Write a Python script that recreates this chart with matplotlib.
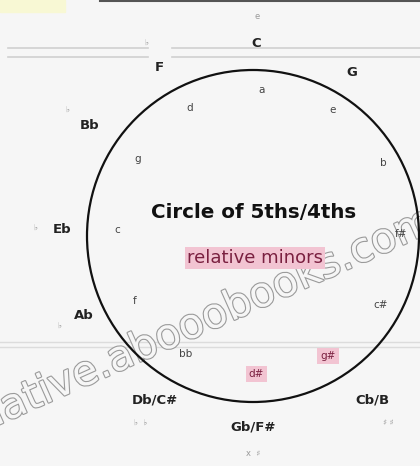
import numpy as np
import matplotlib.pyplot as plt
import matplotlib.patheffects as pe
from matplotlib.patches import Circle, Rectangle

# keys around the circle, clockwise from the top
majors = ['C', 'G', 'D', 'A', 'E', 'Cb/B', 'Gb/F#', 'Db/C#', 'Ab', 'Eb', 'Bb', 'F']
minors = ['a', 'e', 'b', 'f#', 'c#', 'g#', 'd#', 'bb', 'f', 'c', 'g', 'd']
minor_hilite = ['g#', 'd#']
# faint key-signature marks outside the major labels
sigs = ['e', '', '', '', '', '\u266f \u266f', 'x  \u266f', '\u266d  \u266d', '\u266d', '\u266d', '\u266d', '\u266d']

# layout (the drawing is hand placed, not perfectly even)
cx, cy, R = 253, 230, 166
r_major, r_minor, r_sig = 191, 142, 218
offset = -1
major_nudge = [0, 0, 0, 0, 0, 7, 1, 0, -4, -1, -3, 0]
major_rnudge = [2, 0, 0, 0, 0, 12, 0, 0, -4, 0, 6, 2]
mx, my = cx + 6, cy + 4  # minors sit a little off centre

fig = plt.figure(figsize=(4.2, 4.66), dpi=100)
fig.patch.set_facecolor('#f6f6f6')
ax = fig.add_axes([0, 0, 1, 1])
ax.set_xlim(0, 420)
ax.set_ylim(0, 466)
ax.set_aspect('equal')
ax.axis('off')

# page bits at the top
ax.add_patch(Rectangle((0, 454), 65, 12, color='#f8f8d4', zorder=0))
ax.plot([100, 420], [465, 465], color='#555555', lw=1.5)
for y in [418, 409]:
    ax.plot([8, 148], [y, y], color='#d0d0d0', lw=1.2, zorder=0)
    ax.plot([172, 420], [y, y], color='#d0d0d0', lw=1.2, zorder=0)
for y in [124, 119]:
    ax.plot([0, 420], [y, y], color='#dcdcdc', lw=1.0, zorder=0)

ax.add_patch(Circle((cx, cy), R, fill=False, ec='#111111', lw=1.6, zorder=3))

ang = 90 - 30 * np.arange(12) + offset
for i, lab in enumerate(majors):
    a = np.radians(ang[i] + major_nudge[i])
    r = r_major + major_rnudge[i]
    x, y = cx + r * np.cos(a), cy + r * np.sin(a)
    if x > 405:
        continue  # these fall off the cropped page
    ax.text(x, y, lab, ha='center', va='center', fontsize=9.5,
            fontweight='bold', color='#222222', zorder=4)
    if sigs[i]:
        rs = r_sig + major_rnudge[i]
        ax.text(cx + rs * np.cos(a), cy + rs * np.sin(a), sigs[i],
                ha='center', va='center', fontsize=6, color='#999999', zorder=4)

for i, lab in enumerate(minors):
    a = np.radians(ang[i])
    x, y = mx + r_minor * np.cos(a), my + r_minor * np.sin(a)
    if lab in minor_hilite:
        ax.text(x, y, lab, ha='center', va='center', fontsize=7.5, color='#7a2040',
                zorder=4, bbox=dict(boxstyle='square,pad=0.3', fc='#f2c4d2', ec='none'))
    else:
        ax.text(x, y, lab, ha='center', va='center', fontsize=7.5,
                color='#444444', zorder=4)

ax.text(cx + 1, 254, 'Circle of 5ths/4ths', ha='center', va='center',
        fontsize=14.3, fontweight='bold', color='#111111', zorder=4)
ax.text(cx + 2, 208, 'relative minors', ha='center', va='center',
        fontsize=13, color='#7a2040', zorder=4,
        bbox=dict(boxstyle='square,pad=0.1', fc='#f2c4d2', ec='none'))

# watermark behind the drawing, its start runs off the left edge
ax.text(-42, 23, 'relative.abooobooks.com', ha='left', va='baseline',
        rotation=24, rotation_mode='anchor', fontsize=30, color='#f6f6f6',
        zorder=2, path_effects=[pe.withStroke(linewidth=1.6, foreground='#9a9a9a')])

fig.savefig('out.png', dpi=100, facecolor=fig.get_facecolor())
